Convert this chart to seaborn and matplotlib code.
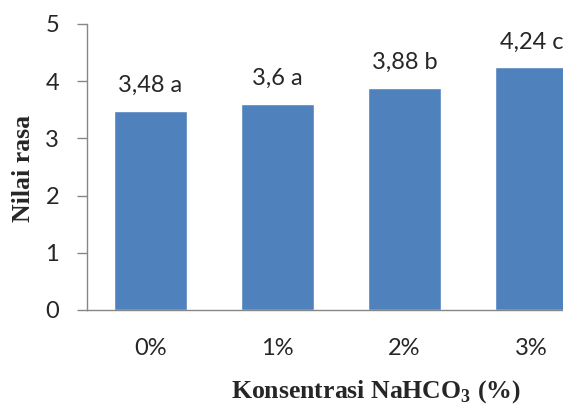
import matplotlib
matplotlib.use('Agg')
import matplotlib.pyplot as plt
import seaborn as sns

categories = ['0%', '1%', '2%', '3%']
values = [3.48, 3.6, 3.88, 4.24]
notations = ['a', 'a', 'b', 'c']

sns.set_style('white')
plt.rcParams['font.family'] = ['Lato', 'DejaVu Sans']
plt.rcParams['mathtext.fontset'] = 'custom'
plt.rcParams['mathtext.rm'] = 'Liberation Serif:bold'
plt.rcParams['mathtext.bf'] = 'Liberation Serif:bold'

fig = plt.figure(figsize=(5.63, 4.07), dpi=100)
ax = fig.add_axes([87/563, 1-310/407, 508/563, 286/407])

sns.barplot(x=categories, y=values, color='#4F81BD', saturation=1, width=0.575, ax=ax)

for i, (v, n) in enumerate(zip(values, notations)):
    txt = f'{v:g}'.replace('.', ',') + ' ' + n
    ax.annotate(txt, (i, v), xytext=(0, 13.5), textcoords='offset points',
                ha='center', va='baseline', fontsize=17, color='#262626')

ax.set_xlim(-0.5, 3.5)
ax.set_ylim(0, 5)
ax.set_yticks([0, 1, 2, 3, 4, 5])
ax.set_xlabel('')
ax.set_ylabel('')
for s in ['top', 'right']:
    ax.spines[s].set_visible(False)
for s in ['left', 'bottom']:
    ax.spines[s].set_color('#868686')
    ax.spines[s].set_linewidth(1)
ax.tick_params(axis='y', left=True, length=7, width=1, color='#868686', pad=13, labelsize=17, labelcolor='#262626')
ax.tick_params(axis='x', bottom=False, length=0, pad=20, labelsize=17, labelcolor='#262626')

fig.text(24/563, 1-168/407, 'Nilai rasa', rotation=90, ha='center', va='center',
         family='Liberation Serif', fontweight='bold', fontsize=18.5)
fig.text(376/563, 1-392/407, 'Konsentrasi NaHCO$_3$ (%)', ha='center', va='center',
         family='Liberation Serif', fontweight='bold', fontsize=18.5)

fig.savefig('out.png', dpi=100)
